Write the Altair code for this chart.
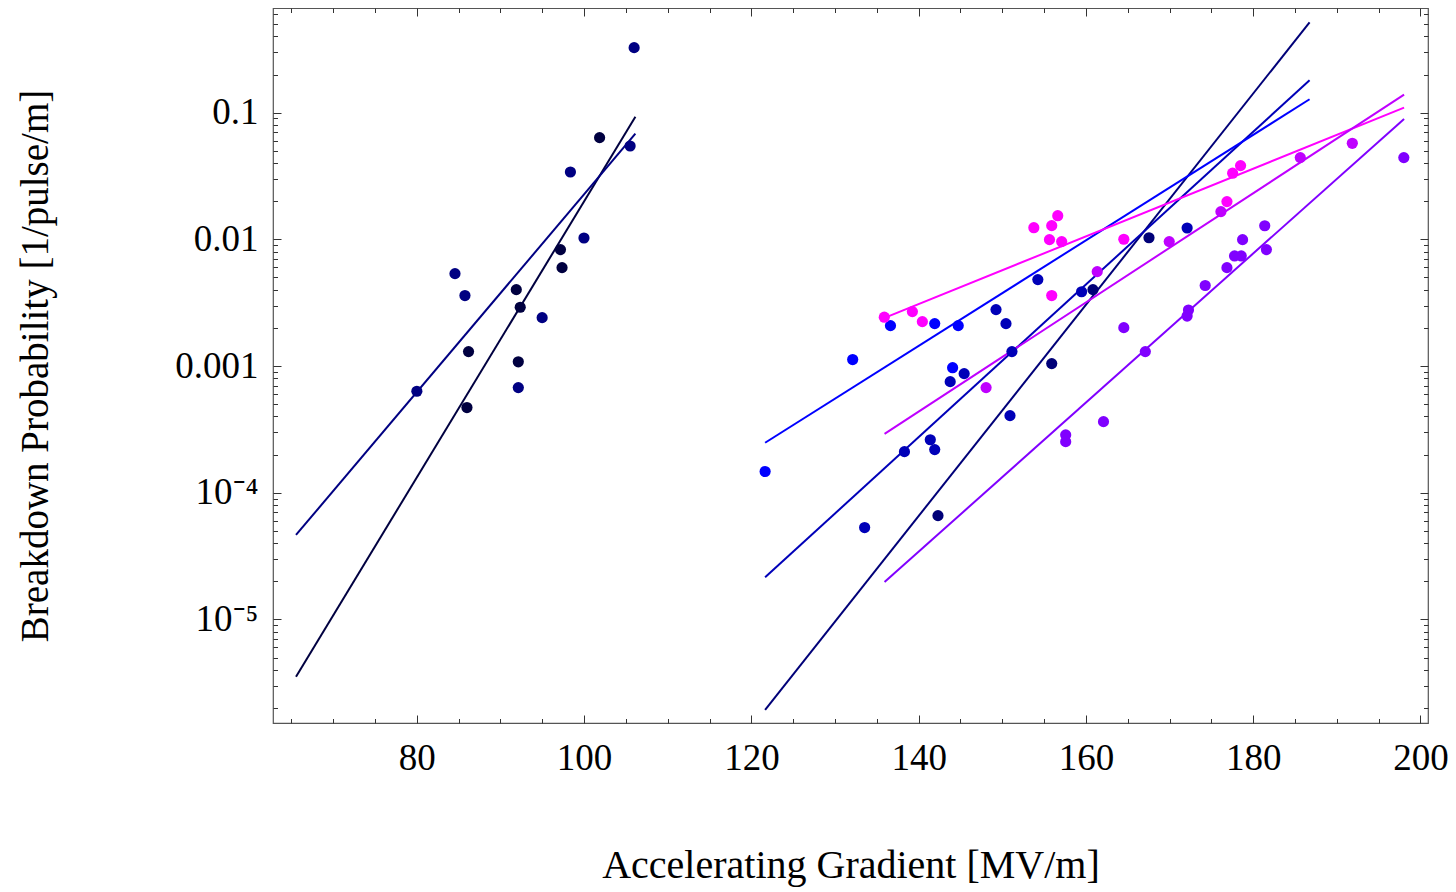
import math
import altair as alt
import pandas as pd

FONT = "Liberation Serif"

series_names = ["s1", "s2", "s3", "s4", "s5", "s6", "s7", "s8"]
series_colors = ["#000040", "#000082", "#000078", "#0000B8", "#0000FF",
                 "#FF00FF", "#BF00FF", "#8000FF"]

# ---- measured points (gradient MV/m, breakdown probability) ----
s1_x = [101.85, 97.17, 97.36, 91.89, 92.36, 86.18, 92.13, 85.99]
s1_y = [0.0635, 0.0083, 0.00598, 0.00401, 0.00291, 0.0013, 0.00108, 0.00047]

s2_x = [105.98, 105.50, 98.36, 99.98, 84.56, 85.75, 94.98, 80.0, 92.13]
s2_y = [0.326, 0.0546, 0.034, 0.01025, 0.00536, 0.0036, 0.00241, 0.000632, 0.000676]

s3_x = [142.31, 155.91, 160.84, 167.54]
s3_y = [6.59e-5, 0.001045, 0.00401, 0.0103]

s4_x = [133.54, 138.30, 141.39, 141.92, 143.77, 145.44, 149.25, 150.44,
        150.92, 151.15, 154.25, 159.48, 172.10]
s4_y = [5.31e-5, 2.11e-4, 2.62e-4, 2.19e-4, 7.53e-4, 8.71e-4, 0.00279, 0.00216,
        4.06e-4, 0.0013, 0.00481, 0.00386, 0.0123]

s5_x = [121.64, 132.11, 136.63, 141.92, 144.73, 144.06]
s5_y = [1.47e-4, 0.001125, 0.002084, 0.002163, 0.002084, 0.00097]

s6_x = [135.89, 139.25, 140.44, 153.77, 155.91, 156.63, 155.64, 157.10,
        155.91, 164.53, 176.86, 177.54, 178.49]
s6_y = [0.00243, 0.00269, 0.00224, 0.01236, 0.01283, 0.01538, 0.00995, 0.0096,
        0.0036, 0.01002, 0.01986, 0.0333, 0.0382]

s7_x = [148.06, 161.35, 169.96, 176.14, 185.63, 191.85]
s7_y = [6.76e-4, 0.00556, 0.0096, 0.01655, 0.0442, 0.0573]

s8_x = [157.58, 157.58, 162.10, 164.53, 167.10, 172.26, 172.10, 174.26,
        176.86, 177.77, 178.57, 178.73, 181.38, 181.58, 198.01]
s8_y = [2.86e-4, 2.53e-4, 3.64e-4, 0.00201, 0.0013, 0.00277, 0.00248, 0.00432,
        0.00598, 0.0074, 0.0074, 0.00995, 0.0128, 0.0083, 0.0442]

# ---- fitted lines: start / end of each fit ----
fit_x0 = [65.55, 65.55, 121.64, 121.64, 121.64, 135.92, 135.92, 135.92]
fit_x1 = [106.13, 106.13, 186.74, 186.74, 186.74, 198.04, 198.04, 198.04]
fit_y0 = [3.52e-6, 4.64e-5, 1.93e-6, 2.15e-5, 2.48e-4, 0.0024, 2.91e-4, 1.97e-5]
fit_y1 = [0.0929, 0.0683, 0.517, 0.18, 0.1276, 0.1095, 0.1387, 0.0892]

# ---- axes ----
x_domain = [62.8, 200.9]
y_domain = [1.521e-6, 0.6704]
x_major = [80, 100, 120, 140, 160, 180, 200]
x_minor = [65, 70, 75, 85, 90, 95, 105, 110, 115, 125, 130, 135,
           145, 150, 155, 165, 170, 175, 185, 190, 195]
y_major = [0.1, 0.01, 0.001, 1e-4, 1e-5, 1e-6]
y_tick_values = [0.1, 0.01, 0.001, 1e-4, 1e-5]
y_tick_labels = ["0.1", "0.01", "0.001", "10\u207b\u2074", "10\u207b\u2075"]
y_minor = [m * d for d in [1e-6, 1e-5, 1e-4, 1e-3, 1e-2, 1e-1]
           for m in [2, 3, 4, 5, 6, 7, 8, 9]
           if y_domain[0] <= m * d <= y_domain[1]]

xs = [s1_x, s2_x, s3_x, s4_x, s5_x, s6_x, s7_x, s8_x]
ys = [s1_y, s2_y, s3_y, s4_y, s5_y, s6_y, s7_y, s8_y]
pts = pd.DataFrame(
    [{"series": n, "g": gx, "p": py}
     for n, xx, yy in zip(series_names, xs, ys) for gx, py in zip(xx, yy)]
)
fits = pd.DataFrame(
    [{"series": n, "g": gx, "p": py}
     for n, a0, a1, b0, b1 in zip(series_names, fit_x0, fit_x1, fit_y0, fit_y1)
     for gx, py in [(a0, b0), (a1, b1)]]
)

xscale = alt.Scale(domain=x_domain, nice=False, zero=False)
yscale = alt.Scale(type="log", domain=y_domain, nice=False)
cscale = alt.Scale(domain=series_names, range=series_colors)

label_expr = " : ".join(
    f"abs(log(datum.value)/LN10 - ({math.log10(v):.3f})) < 0.01 ? '{l}'"
    for v, l in zip(y_tick_values, y_tick_labels)
) + " : ''"

TICK = "#333333"


def tick_axis(orient, values, size):
    return alt.Axis(orient=orient, values=values, tickSize=size, offset=-size,
                    labels=False, domain=False, grid=False, title=None,
                    tickColor=TICK, tickWidth=1)


x_main = alt.Axis(orient="bottom", values=x_major, tickSize=0, domain=False, grid=False,
                  labelFont=FONT, labelFontSize=37, labelColor="black", labelPadding=17,
                  labelFlush=False, title="Accelerating Gradient [MV/m]",
                  titleFont=FONT, titleFontSize=40, titleFontWeight="normal",
                  titleColor="black", titleBaseline="alphabetic", titleY=154)
y_main = alt.Axis(orient="left", values=y_tick_values, tickSize=0, domain=False, grid=False,
                  labelFont=FONT, labelFontSize=37, labelColor="black", labelPadding=15,
                  labelExpr=label_expr, labelFlush=False,
                  title="Breakdown Probability [1/pulse/m]",
                  titleFont=FONT, titleFontSize=39, titleFontWeight="normal",
                  titleColor="black", titleBaseline="alphabetic", titleX=-226)

lines = alt.Chart(fits).mark_line(strokeWidth=2, clip=True).encode(
    x=alt.X("g:Q", scale=xscale, axis=tick_axis("bottom", x_major, 8)),
    y=alt.Y("p:Q", scale=yscale, axis=tick_axis("left", y_major, 8)),
    color=alt.Color("series:N", scale=cscale, legend=None),
    detail="series:N",
)

points = alt.Chart(pts).mark_circle(size=125, opacity=1).encode(
    x=alt.X("g:Q", scale=xscale, axis=x_main),
    y=alt.Y("p:Q", scale=yscale, axis=y_main),
    color=alt.Color("series:N", scale=cscale, legend=None),
)


def ghost(xa, ya):
    return alt.Chart(pts).mark_point(opacity=0).encode(
        x=alt.X("g:Q", scale=xscale, axis=xa),
        y=alt.Y("p:Q", scale=yscale, axis=ya),
    )


g1 = ghost(tick_axis("bottom", x_minor, 4.5), tick_axis("left", y_minor, 4.5))
g2 = ghost(tick_axis("top", x_major, 8), tick_axis("right", y_major, 8))
g3 = ghost(tick_axis("top", x_minor, 4.5), tick_axis("right", y_minor, 4.5))

chart = alt.layer(lines, points, g1, g2, g3).resolve_axis(
    x="independent", y="independent"
).properties(
    width=1155, height=715,
    autosize=alt.AutoSizeParams(type="none"),
    padding={"left": 265, "top": 0, "right": 20, "bottom": 165},
).configure(font=FONT).configure_view(stroke="#555555", strokeWidth=1.2)

chart.save("out.html", embed_options={"renderer": "svg", "actions": False})
